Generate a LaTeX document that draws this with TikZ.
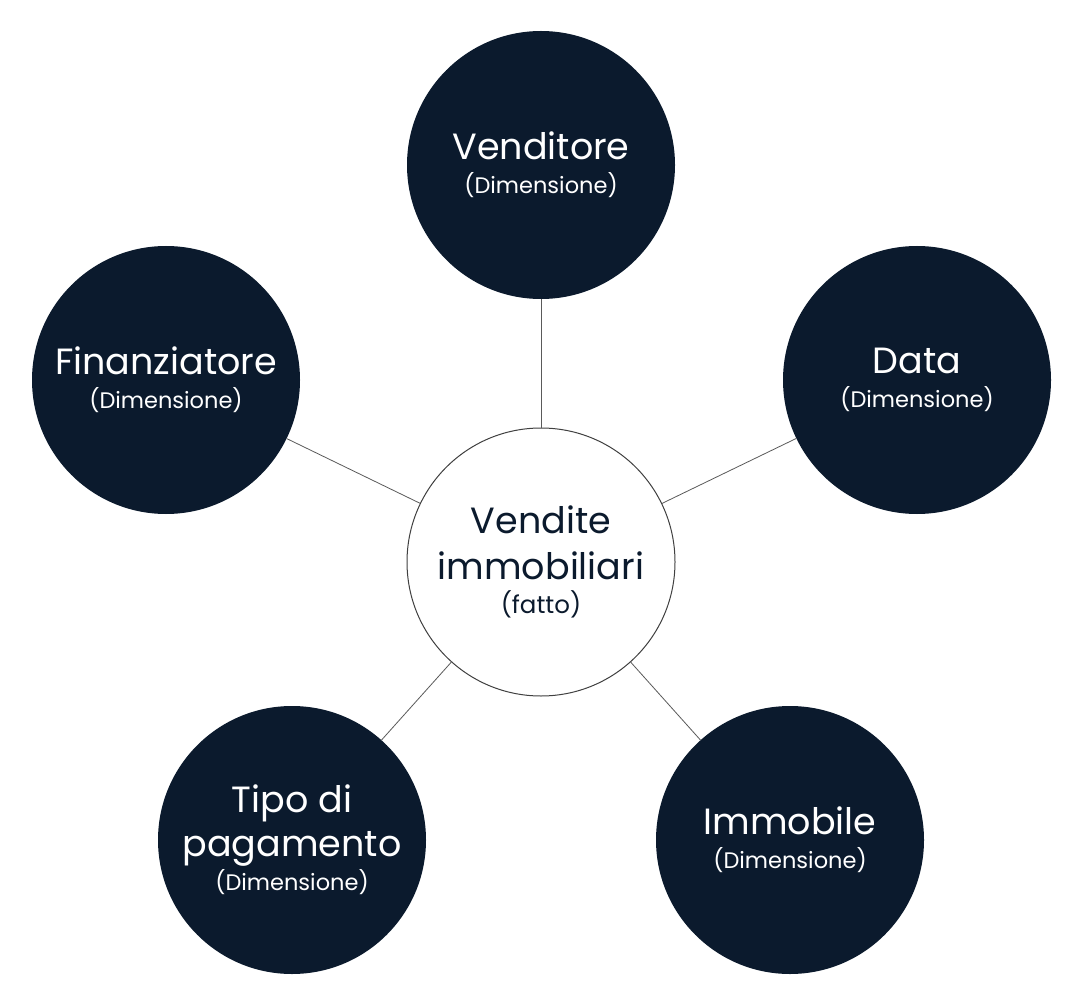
\documentclass[tikz,border=0pt]{standalone}
\usepackage{fontspec}
\setmainfont{Poppins}
\definecolor{navy}{HTML}{0B1A2D}
\definecolor{linegray}{HTML}{5A5A5A}
\newcommand{\subtxt}[1]{{\fontsize{22.5}{26}\selectfont #1}}
\begin{document}
\begin{tikzpicture}[x=1pt,y=-1pt,
  dim/.style={circle,fill=navy,draw=none,minimum size=268pt,inner sep=0pt,text=white,align=center,font=\fontsize{36.5}{44}\selectfont},
  fact/.style={circle,fill=white,draw=black!75,line width=1pt,minimum size=268pt,inner sep=0pt,text=navy,align=center,font=\fontsize{36.5}{46}\selectfont},
  link/.style={draw=linegray,line width=0.8pt}]
\useasboundingbox[fill=white] (0,0) rectangle (1084,992);
\node[fact] (c) at (541,562) {Vendite\\immobiliari\\[-12pt]{\fontsize{24.5}{28}\selectfont(fatto)}};
\node[dim] (v) at (541,165) {Venditore\\[-10pt]\subtxt{(Dimensione)}};
\node[dim] (f) at (166,380) {Finanziatore\\[-10pt]\subtxt{(Dimensione)}};
\node[dim] (d) at (917,380) {Data\\[-10pt]\subtxt{(Dimensione)}};
\node[dim] (t) at (292,840) {Tipo di\\pagamento\\[-10pt]\subtxt{(Dimensione)}};
\node[dim] (i) at (790,840) {Immobile\\[-10pt]\subtxt{(Dimensione)}};
\draw[link] (c) -- (v);
\draw[link] (c) -- (f);
\draw[link] (c) -- (d);
\draw[link] (c) -- (t);
\draw[link] (c) -- (i);
\end{tikzpicture}
\end{document}
